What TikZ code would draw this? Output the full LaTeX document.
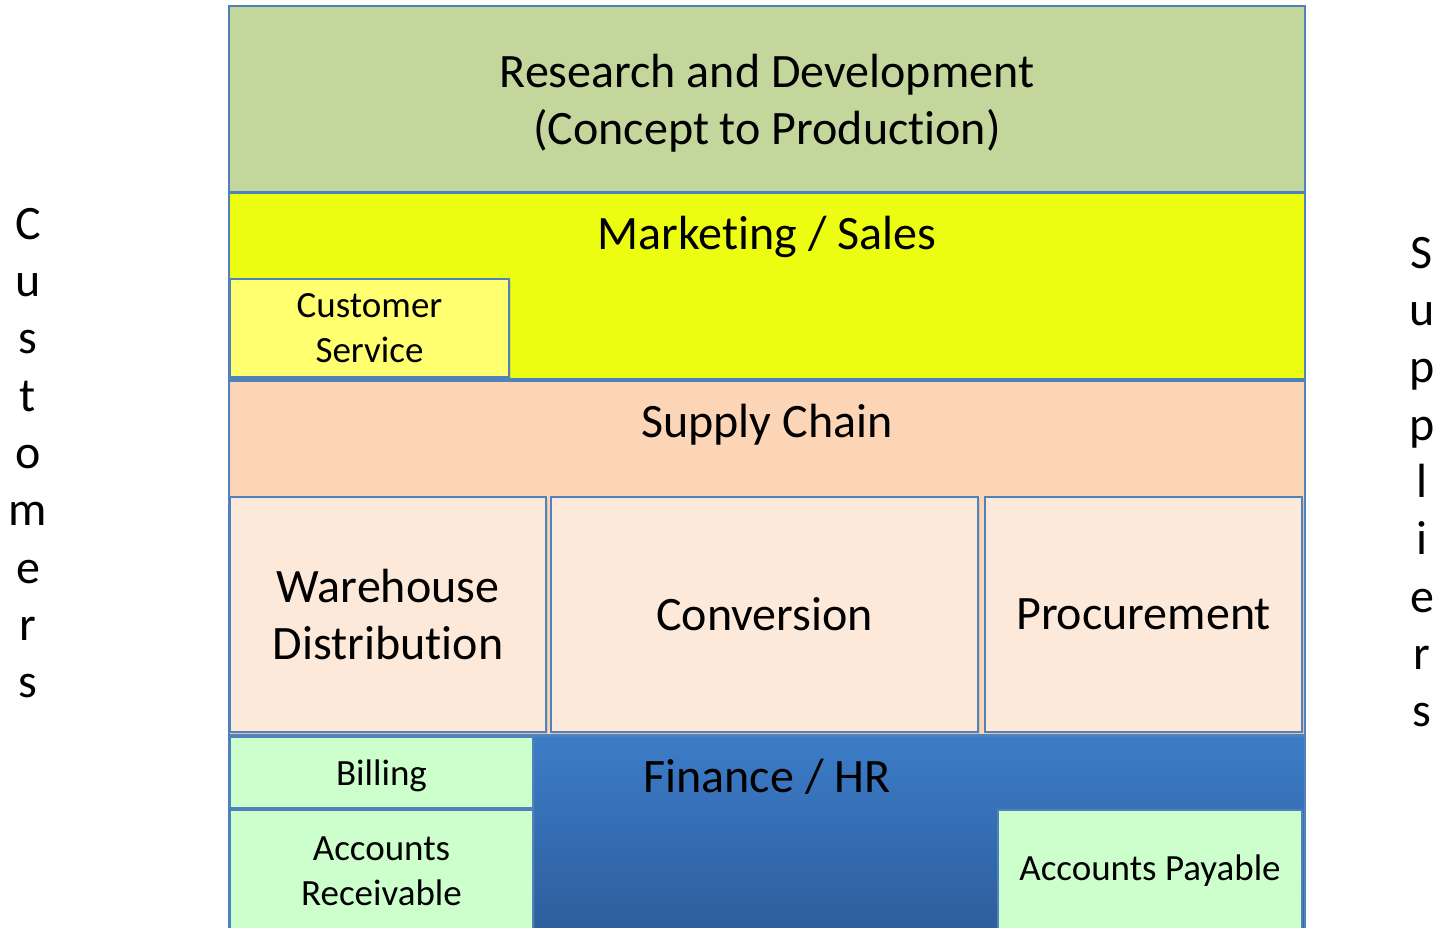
\documentclass[tikz,border=0pt]{standalone}
\usepackage{fontspec}
\setmainfont{Carlito}[Ligatures=NoCommon]
\usepackage{tikz}
\usetikzlibrary{shadows}
\definecolor{boxblue}{HTML}{4F81BD}
\definecolor{rndgreen}{HTML}{C3D69B}
\definecolor{mktyellow}{HTML}{EDFD11}
\definecolor{csyellow}{HTML}{FFFF70}
\definecolor{scorange}{HTML}{FBD5B5}
\definecolor{scpale}{HTML}{FDE9D9}
\definecolor{fingreen}{HTML}{CCFFCC}
\definecolor{fintop}{HTML}{3C7CC8}
\definecolor{finbottom}{HTML}{2D5D9B}
\tikzstyle{band} = [rectangle, 
anchor=north west, 
minimum width=1076pt, 
inner sep=0pt, outer sep=0pt, 
draw=boxblue, line width=2pt]
\tikzstyle{unit} = [rectangle, 
anchor=north west, 
inner sep=0pt, outer sep=0pt, 
align=center, 
font=\fontsize{48}{57}\selectfont, 
drop shadow={opacity=0.2, shadow xshift=2pt, shadow yshift=-3pt}, 
draw=boxblue, line width=2pt]
\tikzstyle{small} = [unit, font=\fontsize{37}{45}\selectfont]
\tikzstyle{title} = [anchor=base, align=center, font=\fontsize{48}{57}\selectfont]
\tikzstyle{side} = [align=center, font=\fontsize{48}{57.3}\selectfont]

\begin{document}
\begin{tikzpicture}[x=1pt, y=-1pt]
			\clip (0,0) rectangle (1441,928);
			
			\node (rnd) [band, fill=rndgreen, minimum height=186pt] at (229,6) {};
			\node (rndTitle) [title, anchor=center] at (767,103) {Research and Development\\(Concept to Production)};
			
			\node (mkt) [band, fill=mktyellow, minimum height=186pt] at (229,193) {};
			\node (mktTitle) [title] at (767,250) {Marketing / Sales};
			\node (custServ) [small, fill=csyellow, minimum width=279pt, minimum height=98pt] at (230,279) {Customer\\Service};
			
			\node (supply) [band, fill=scorange, minimum height=354pt] at (229,381) {};
			\node (supplyTitle) [title] at (767,437) {Supply Chain};
			\node (warehouse) [unit, fill=scpale, minimum width=316pt, minimum height=235pt] at (230,497) {Warehouse\\Distribution};
			\node (conversion) [unit, fill=scpale, minimum width=427pt, minimum height=235pt] at (551,497) {Conversion};
			\node (procure) [unit, fill=scpale, minimum width=317pt, minimum height=235pt] at (985,497) {Procurement};
			
			\node (fin) [band, top color=fintop, bottom color=finbottom, minimum height=200pt] at (229,736) {};
			\node (finTitle) [title] at (767,792) {Finance / HR};
			\node (billing) [small, fill=fingreen, minimum width=303pt, minimum height=71pt, text depth=0pt] at (230,737) {Billing};
			\node (receivable) [small, fill=fingreen, minimum width=303pt, minimum height=122pt] at (230,810) {Accounts\\Receivable};
			\node (payable) [small, fill=fingreen, minimum width=304pt, minimum height=122pt] at (998,810) {Accounts Payable};
			
			\node (customers) [side] at (28,453) {C\\u\\s\\t\\o\\m\\e\\r\\s};
			\node (suppliers) [side] at (1422,482) {S\\u\\p\\p\\l\\i\\e\\r\\s};
		\end{tikzpicture}
\end{document}
